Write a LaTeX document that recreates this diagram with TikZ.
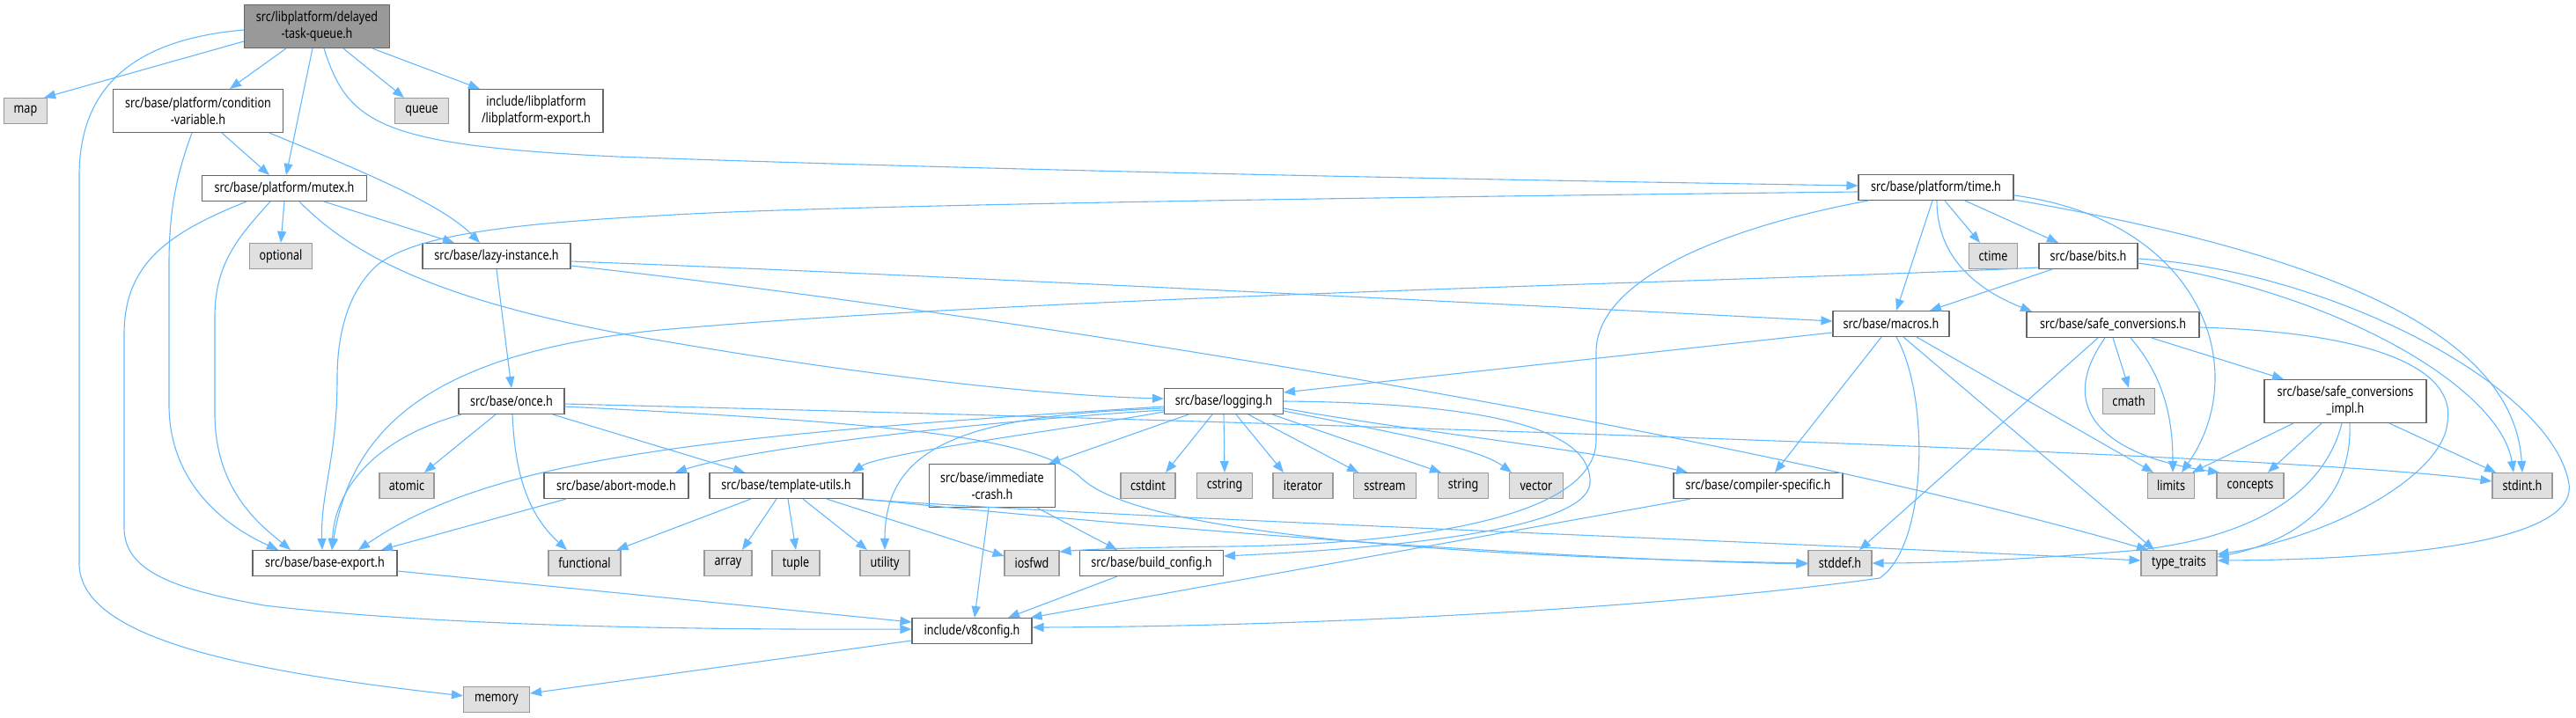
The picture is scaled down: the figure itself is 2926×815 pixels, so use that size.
\documentclass[tikz,border=0pt]{standalone}
\usepackage{fontspec}
\setmainfont{Noto Sans}[FakeStretch=0.81]
\usetikzlibrary{arrows.meta}
\definecolor{edgeblue}{HTML}{63B8FF}
\definecolor{boxborder}{HTML}{666666}
\definecolor{sysfill}{HTML}{E0E0E0}
\definecolor{sysborder}{HTML}{999999}
\definecolor{rootfill}{HTML}{999999}
\tikzset{
  hdr/.style={draw=boxborder, fill=white, line width=1.1pt, inner sep=0pt,
    minimum height=29pt, align=center, font=\fontsize{15.5}{19}\selectfont},
  sys/.style={hdr, draw=sysborder, fill=sysfill},
  rootbox/.style={hdr, fill=rootfill},
  two/.style={minimum height=49pt},
  dep/.style={draw=edgeblue, line width=1.1pt, -{Triangle[length=13pt,width=10pt]}},
}
\begin{document}
\begin{tikzpicture}[x=1pt,y=-1pt]
\useasboundingbox (0,0) rectangle (2926,815);
% nodes
\node[rootbox,two,minimum width=165pt] (root) at (360,30) {src/libplatform/delayed\\-task-queue.h};
\node[sys,minimum width=49pt] (map) at (29,126) {map};
\node[hdr,two,minimum width=193pt] (condvar) at (225,126) {src/base/platform/condition\\-variable.h};
\node[sys,minimum width=61pt] (queue) at (479,126) {queue};
\node[hdr,two,minimum width=152pt] (lpexport) at (609,126) {include/libplatform\\/libplatform-export.h};
\node[hdr,minimum width=187pt] (mutex) at (323,214) {src/base/platform/mutex.h};
\node[hdr,minimum width=176pt] (timeh) at (2199,213) {src/base/platform/time.h};
\node[sys,minimum width=71pt] (optional) at (319,291) {optional};
\node[hdr,minimum width=168pt] (lazy) at (564,291) {src/base/lazy-instance.h};
\node[sys,minimum width=55pt] (ctime) at (2264,291) {ctime};
\node[hdr,minimum width=112pt] (bits) at (2372,291) {src/base/bits.h};
\node[hdr,minimum width=132pt] (macros) at (2148,368) {src/base/macros.h};
\node[hdr,minimum width=196pt] (safeconv) at (2400,369) {src/base/safe\_conversions.h};
\node[hdr,minimum width=120pt] (once) at (581,456) {src/base/once.h};
\node[hdr,minimum width=135pt] (logging) at (1390,456) {src/base/logging.h};
\node[sys,minimum width=59pt] (cmath) at (2418,456) {cmath};
\node[hdr,two,minimum width=184pt] (impl) at (2664,456) {src/base/safe\_conversions\\\_impl.h};
\node[sys,minimum width=62pt] (atomic) at (462,552) {atomic};
\node[hdr,minimum width=164pt] (abort) at (700,552) {src/base/abort-mode.h};
\node[hdr,minimum width=174pt] (tutils) at (893,552) {src/base/template-utils.h};
\node[hdr,two,minimum width=143pt] (immcrash) at (1127,552) {src/base/immediate\\-crash.h};
\node[sys,minimum width=62pt] (cstdint) at (1304,552) {cstdint};
\node[sys,minimum width=63pt] (cstring) at (1391,552) {cstring};
\node[sys,minimum width=68pt] (iterator) at (1480,552) {iterator};
\node[sys,minimum width=71pt] (sstream) at (1573,552) {sstream};
\node[sys,minimum width=57pt] (string) at (1662,552) {string};
\node[sys,minimum width=61pt] (vector) at (1745,552) {vector};
\node[hdr,minimum width=192pt] (compspec) at (1997,552) {src/base/compiler-specific.h};
\node[sys,minimum width=53pt] (limits) at (2466,552) {limits};
\node[sys,minimum width=76pt] (concepts) at (2556,552) {concepts};
\node[sys,minimum width=68pt] (stdint) at (2865,552) {stdint.h};
\node[hdr,minimum width=164pt] (baseexport) at (369,640) {src/base/base-export.h};
\node[sys,minimum width=82pt] (functional) at (664,640) {functional};
\node[sys,minimum width=54pt] (array) at (827,640) {array};
\node[sys,minimum width=54pt] (tuple) at (904,640) {tuple};
\node[sys,minimum width=56pt] (utility) at (1005,640) {utility};
\node[sys,minimum width=62pt] (iosfwd) at (1172,640) {iosfwd};
\node[hdr,minimum width=163pt] (buildcfg) at (1308,640) {src/base/build\_config.h};
\node[sys,minimum width=72pt] (stddef) at (2090,640) {stddef.h};
\node[sys,minimum width=86pt] (typetraits) at (2475,640) {type\_traits};
\node[hdr,minimum width=136pt] (v8config) at (1104,717) {include/v8config.h};
\node[sys,minimum width=75pt] (memory) at (564,795) {memory};
% root
\draw[dep] ([yshift=-17pt]root.west) -- ([xshift=-4pt]map.north east);
\draw[dep] ([yshift=-4pt]root.west) .. controls (150,45) and (90,100) .. (90,200) -- (90,640) .. controls (90,720) and (250,760) .. (memory);
\draw[dep] ([xshift=-35pt]root.south) -- ([xshift=36pt]condvar.north);
\draw[dep] ([xshift=-5pt]root.south) -- ([xshift=2pt]mutex.north);
\draw[dep] ([xshift=30pt]root.south) -- ([xshift=-20pt]queue.north);
\draw[dep] ([xshift=63pt]root.south) -- ([xshift=-64pt]lpexport.north);
\draw[dep] ([xshift=8pt]root.south) .. controls (395,140) and (430,165) .. (700,178) .. controls (1200,196) and (1800,206) .. ([yshift=2pt]timeh.west);
% condition-variable
\draw[dep] ([xshift=27pt]condvar.south) -- ([xshift=-17pt]mutex.north);
\draw[dep] ([xshift=81pt]condvar.south) .. controls (400,190) and (500,230) .. ([xshift=-19pt]lazy.north);
\draw[dep] ([xshift=-7pt]condvar.south) .. controls (200,200) and (192,240) .. (192,300) -- (192,460) .. controls (192,545) and (250,595) .. ([xshift=-53pt]baseexport.north);
% mutex
\draw[dep] (mutex.south) -- (optional.north);
\draw[dep] ([xshift=45pt]mutex.south) -- ([xshift=-48pt]lazy.north);
\draw[dep] ([xshift=-43pt]mutex.south) .. controls (190,265) and (141,300) .. (141,380) -- (141,600) .. controls (141,650) and (200,670) .. (300,688) .. controls (500,712) and (800,716) .. ([yshift=2pt]v8config.west);
\draw[dep] ([xshift=-16pt]mutex.south) .. controls (270,270) and (244,300) .. (244,360) -- (244,470) .. controls (244,560) and (300,600) .. ([xshift=-39pt]baseexport.north);
\draw[dep] ([xshift=17pt]mutex.south) .. controls (400,290) and (500,345) .. (750,387) .. controls (1000,430) and (1200,450) .. ([yshift=3pt]logging.west);
% lazy-instance
\draw[dep] (lazy.south) -- (once.north);
\draw[dep] ([yshift=-6pt]lazy.east) .. controls (1000,310) and (1700,345) .. ([yshift=3pt]macros.west);
\draw[dep] ([yshift=-11pt]lazy.east) .. controls (1000,340) and (1900,470) .. ([xshift=-35pt]typetraits.north);
% once
\draw[dep] ([xshift=-18pt]once.south) -- ([xshift=20pt]atomic.north);
\draw[dep] ([xshift=1pt]once.south) .. controls (585,540) and (600,585) .. ([xshift=-20pt]functional.north);
\draw[dep] ([xshift=-57pt]once.south) .. controls (420,500) and (380,560) .. ([xshift=8pt]baseexport.north);
\draw[dep] ([xshift=47pt]once.south) -- ([xshift=-47pt]tutils.north);
\draw[dep] ([yshift=-3pt]once.east) .. controls (1400,478) and (2600,515) .. ([yshift=5pt]stdint.west);
\draw[dep] ([yshift=-6pt]once.east) .. controls (1000,480) and (1180,495) .. (1230,545) .. controls (1280,590) and (1500,630) .. (stddef.west);
% template-utils
\draw[dep] ([xshift=-40pt]tutils.south) -- ([xshift=-5pt]functional.north east);
\draw[dep] ([xshift=-11pt]tutils.south) -- ([xshift=16pt]array.north);
\draw[dep] ([xshift=2pt]tutils.south) -- (tuple.north);
\draw[dep] ([xshift=19pt]tutils.south) -- ([xshift=-20pt]utility.north);
\draw[dep] ([xshift=46pt]tutils.south) -- ([yshift=8pt]iosfwd.west);
\draw[dep] ([xshift=-7pt]tutils.south east) .. controls (1300,590) and (2000,615) .. ([yshift=3pt]typetraits.west);
\draw[dep] (tutils.south east) .. controls (1300,600) and (1750,635) .. ([yshift=-1pt]stddef.west);
% logging
\draw[dep] ([yshift=-6pt]logging.west) .. controls (800,495) and (560,520) .. ([xshift=38pt]baseexport.north);
\draw[dep] ([yshift=-10pt]logging.west) .. controls (1100,480) and (850,510) .. ([xshift=67pt]abort.north);
\draw[dep] ([yshift=-12pt]logging.west) .. controls (1200,490) and (1000,515) .. ([xshift=75pt]tutils.north);
\draw[dep] ([yshift=-8pt]logging.west) .. controls (1100,472) and (1005,505) .. (utility.north);
\draw[dep] ([xshift=-40pt]logging.south) -- ([xshift=-8pt]immcrash.north east);
\draw[dep] ([xshift=-13pt]logging.south) -- ([xshift=20pt]cstdint.north);
\draw[dep] (logging.south) -- (cstring.north);
\draw[dep] ([xshift=14pt]logging.south) -- ([xshift=-22pt]iterator.north);
\draw[dep] ([xshift=28pt]logging.south) -- ([xshift=-30pt]sstream.north);
\draw[dep] ([xshift=55pt]logging.south) -- ([xshift=-25pt]string.north);
\draw[dep] ([yshift=-11pt]logging.east) .. controls (1600,495) and (1680,510) .. ([xshift=-28pt]vector.north);
\draw[dep] ([yshift=-8pt]logging.east) .. controls (1600,490) and (1800,510) .. ([xshift=-80pt]compspec.north);
\draw[dep] (logging.east) .. controls (1700,458) and (1810,490) .. (1806,550) .. controls (1800,600) and (1600,622) .. ([yshift=8pt]buildcfg.east);
% time.h
\draw[dep] ([xshift=33pt]timeh.south) -- ([xshift=-34pt]bits.north);
\draw[dep] ([xshift=10pt]timeh.south) -- ([xshift=-15pt]ctime.north);
\draw[dep] ([xshift=-4pt]timeh.south) -- ([xshift=6pt]macros.north);
\draw[dep] ([xshift=1pt]timeh.south) .. controls (2200,285) and (2235,325) .. ([xshift=-92pt]safeconv.north);
\draw[dep] ([yshift=-9pt]timeh.east) .. controls (2500,250) and (2560,420) .. ([xshift=12pt]limits.north);
\draw[dep] ([yshift=-14pt]timeh.east) .. controls (2650,290) and (2855,380) .. (stdint.north);
\draw[dep] ([yshift=-5pt]timeh.west) .. controls (1400,226) and (900,235) .. (750,245) .. controls (560,255) and (470,270) .. (430,300) .. controls (395,330) and (383,380) .. (383,430) .. controls (383,520) and (364,560) .. ([xshift=-3pt]baseexport.north);
\draw[dep] ([xshift=-77pt]timeh.south) .. controls (1950,260) and (1813,320) .. (1813,400) -- (1813,500) .. controls (1813,590) and (1600,618) .. (1400,621) .. controls (1300,622) and (1240,624) .. ([yshift=13pt]iosfwd.east);
% bits
\draw[dep] ([xshift=-41pt]bits.south) -- ([xshift=44pt]macros.north);
\draw[dep] ([yshift=-13pt]bits.west) .. controls (2000,320) and (1200,335) .. (750,375) .. controls (500,400) and (400,480) .. ([xshift=8pt]baseexport.north);
\draw[dep] ([yshift=-3pt]bits.east) .. controls (2650,308) and (2900,440) .. (2918,550) .. controls (2928,620) and (2700,636) .. ([yshift=3pt]typetraits.east);
\draw[dep] ([yshift=-8pt]bits.east) .. controls (2650,330) and (2840,440) .. ([xshift=-10pt]stdint.north);
% macros
\draw[dep] ([yshift=-10pt]macros.west) -- ([yshift=10pt]logging.east);
\draw[dep] ([xshift=-11pt]macros.south) -- ([xshift=19pt]compspec.north);
\draw[dep] ([xshift=29pt]macros.south) -- ([xshift=-20pt]limits.north);
\draw[dep] ([xshift=14pt]macros.south) -- ([xshift=-28pt]typetraits.north);
\draw[dep] ([xshift=6pt]macros.south) .. controls (2192,450) and (2190,620) .. (2135,657) .. controls (1900,690) and (1500,712) .. ([yshift=4pt]v8config.east);
% safe_conversions
\draw[dep] ([xshift=-17pt]safeconv.south) -- ([xshift=22pt]stddef.north);
\draw[dep] ([xshift=-9pt]safeconv.south) .. controls (2330,470) and (2400,520) .. ([xshift=-35pt]concepts.north);
\draw[dep] (safeconv.south) -- (cmath.north);
\draw[dep] ([xshift=20pt]safeconv.south) .. controls (2460,430) and (2468,480) .. ([xshift=2pt]limits.north);
\draw[dep] ([xshift=44pt]safeconv.south) -- ([xshift=-70pt]impl.north);
\draw[dep] ([yshift=-3pt]safeconv.east) .. controls (2700,378) and (2790,420) .. (2780,480) .. controls (2775,540) and (2650,610) .. ([yshift=10pt]typetraits.east);
% safe_conversions_impl
\draw[dep] ([xshift=-59pt]impl.south) -- ([xshift=-3pt]limits.north east);
\draw[dep] ([xshift=-27pt]impl.south) -- ([xshift=20pt]concepts.north);
\draw[dep] ([xshift=-4pt]impl.south) .. controls (2640,560) and (2560,612) .. (2420,626) .. controls (2300,636) and (2200,640) .. (stddef.east);
\draw[dep] ([xshift=5pt]impl.south) .. controls (2672,560) and (2620,612) .. ([yshift=7pt]typetraits.east);
\draw[dep] ([xshift=50pt]impl.south) -- ([xshift=-30pt]stdint.north);
% others
\draw[dep] ([xshift=-77pt]compspec.south) -- ([xshift=-2pt]v8config.north east);
\draw[dep] ([xshift=-57pt]abort.south) -- ([xshift=64pt]baseexport.north);
\draw[dep] ([xshift=-4pt]immcrash.south) -- ([xshift=3pt]v8config.north);
\draw[dep] ([xshift=51pt]immcrash.south) -- ([xshift=-39pt]buildcfg.north);
\draw[dep] ([xshift=-39pt]buildcfg.south) -- ([xshift=41pt]v8config.north);
\draw[dep] ([yshift=-9pt]baseexport.east) -- ([yshift=10pt]v8config.west);
\draw[dep] ([yshift=-11pt]v8config.west) -- ([yshift=7pt]memory.east);
\end{tikzpicture}
\end{document}
